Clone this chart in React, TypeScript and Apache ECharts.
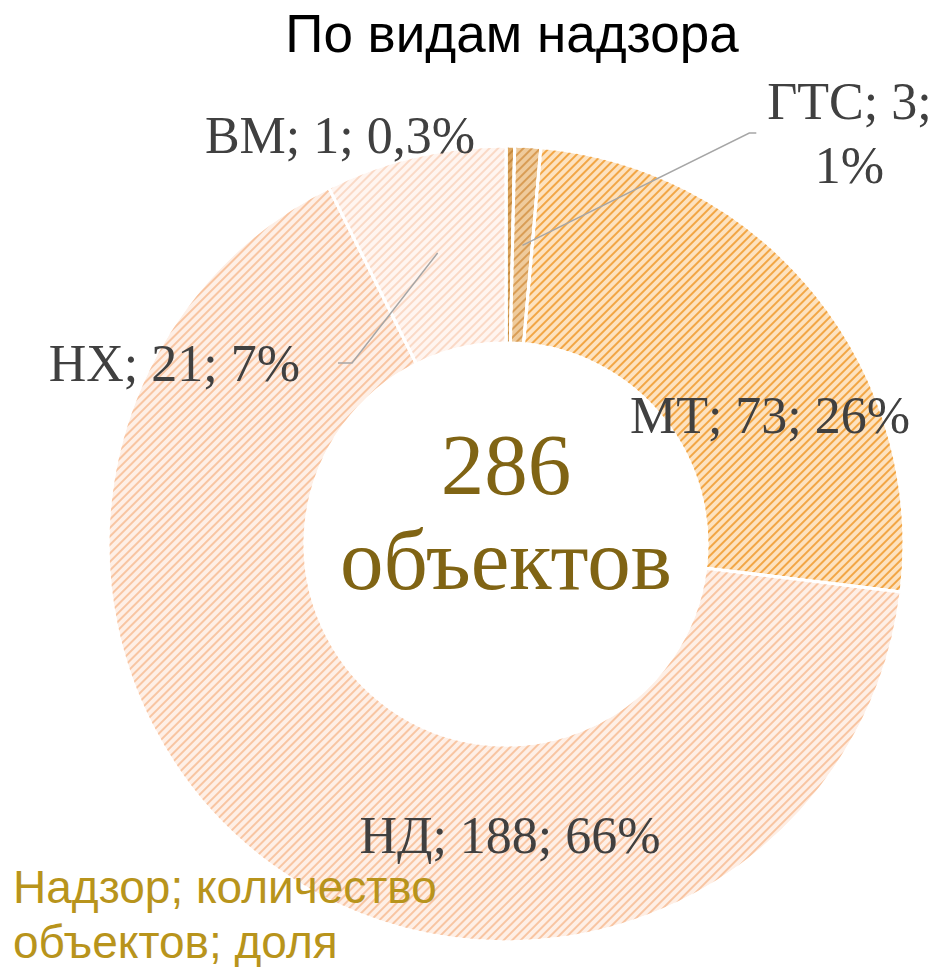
import React, { useEffect, useRef } from 'react';
import * as echarts from 'echarts';

// ---- data ----
const categories = ['ВМ', 'ГТС', 'МТ', 'НД', 'НХ'];
const values = [1, 3, 73, 188, 21];
const shareLabels = ['0,3%', '1%', '26%', '66%', '7%'];
const centerCaption = 'объектов';
const titleText = 'По видам надзора';
const noteText = 'Надзор; количество\nобъектов; доля';

// ---- styling / layout ----
const fillColors = ['#dea862', '#efcb9c', '#fde2bf', '#feefe6', '#fff5f0'];
const stripeColors = ['#c68a3e', '#d99d55', '#f2a645', '#f8c5a2', '#fad9c6'];
const labelPos = [
  { x: 340, y: 135, align: 'center' },
  { x: 844, y: 133, align: 'center' },
  { x: 770, y: 415, align: 'center' },
  { x: 510, y: 835, align: 'center' },
  { x: 338, y: 363, align: 'right' },
];
const labelBreak = [false, true, false, false, false];
const showLeader = [false, true, false, false, true];
const labelPadding: any[] = [0, [0, 0, 0, 11], 0, 0, [0, 38, 0, 0]];
const leaderLen2 = [0, 7, 0, 0, 14];

const CX = 506;
const CY = 544;

export default function App() {
  const ref = useRef<HTMLDivElement>(null);
  useEffect(() => {
    if (!ref.current) return;
    const chart = echarts.init(ref.current, null, { renderer: 'svg' });
    const total = values.reduce((a, b) => a + b, 0);
    const option: any = {
      animation: false,
      backgroundColor: '#ffffff',
      graphic: [
        {
          type: 'text', x: 512, y: 33, z: 100,
          style: {
            text: titleText, fontFamily: 'Liberation Sans', fontSize: 53,
            fill: '#000000', align: 'center', verticalAlign: 'middle',
          },
        },
        {
          type: 'text', x: CX, y: 512, z: 100,
          style: {
            text: `${total}\n${centerCaption}`, fontFamily: 'Liberation Serif', fontSize: 87,
            lineHeight: 95, fill: '#806414', align: 'center', verticalAlign: 'middle',
          },
        },
        {
          type: 'text', x: 13, y: 914, z: 100,
          style: {
            text: noteText, fontFamily: 'Liberation Sans', fontSize: 46,
            lineHeight: 55, fill: '#b8941c', align: 'left', verticalAlign: 'middle',
          },
        },
      ],
      series: [
        {
          type: 'pie',
          z: 2,
          radius: [201, 398],
          center: [CX, CY],
          startAngle: 90,
          clockwise: true,
          silent: true,
          label: { show: false },
          labelLine: { show: false },
          emphasis: { disabled: true },
          data: categories.map((n, i) => ({
            name: n,
            value: values[i],
            itemStyle: {
              color: fillColors[i],
              borderColor: '#ffffff',
              borderWidth: 3,
              decal: {
                symbol: 'rect', symbolSize: 1,
                dashArrayX: [1, 0], dashArrayY: [2, 4],
                rotation: -Math.PI / 4,
                color: stripeColors[i],
              },
            },
          })),
        },
        {
          type: 'pie',
          z: 5,
          radius: [0, 299],
          center: [CX, CY],
          startAngle: 90,
          clockwise: true,
          silent: true,
          avoidLabelOverlap: false,
          emphasis: { disabled: true },
          itemStyle: { color: 'rgba(0,0,0,0)', borderWidth: 0 },
          label: {
            show: true,
            position: 'outside',
            fontFamily: 'Liberation Serif',
            fontSize: 52,
            color: '#404040',
            formatter: (p: any) => {
              const i = p.dataIndex;
              return `${categories[i]}; ${values[i]};${labelBreak[i] ? '\n' : ' '}${shareLabels[i]}`;
            },
          },
          labelLine: { show: false, length: 10, length2: 0, lineStyle: { color: '#a6a6a6', width: 1.5 } },
          labelLayout: (p: any) => {
            const lp = labelPos[p.dataIndex];
            return { x: lp.x, y: lp.y, align: lp.align, verticalAlign: 'middle' };
          },
          data: categories.map((n, i) => ({
            name: n,
            value: values[i],
            label: { padding: labelPadding[i], lineHeight: labelBreak[i] ? 64 : 60 },
            labelLine: {
              show: showLeader[i], length2: leaderLen2[i],
              lineStyle: { color: '#a6a6a6', width: 1.5 },
            },
          })),
        },
      ],
    };
    chart.setOption(option);
    return () => chart.dispose();
  }, []);
  return (
    <div
      ref={ref}
      style={{ position: 'absolute', left: 0, top: 0, width: 934, height: 967 }}
    />
  );
}
